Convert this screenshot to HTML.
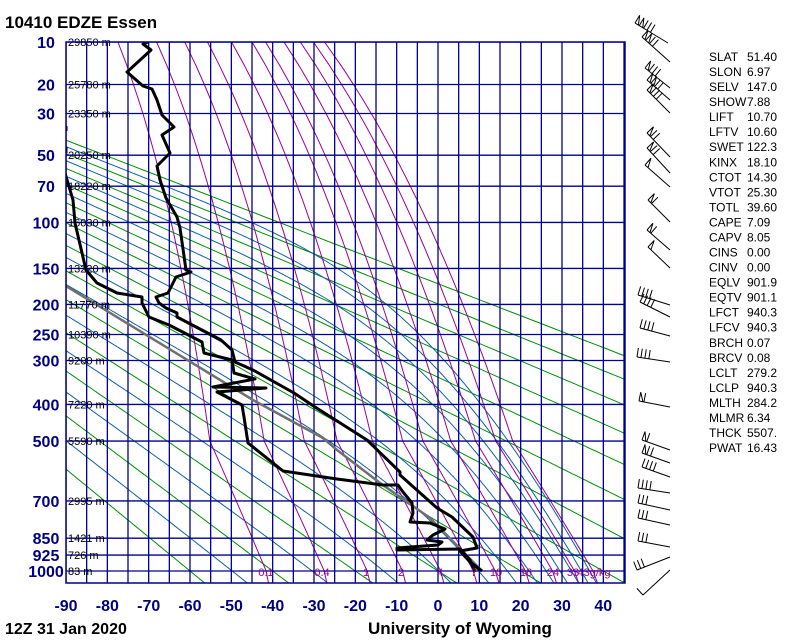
<!DOCTYPE html>
<html><head><meta charset="utf-8">
<style>
body{margin:0;background:#fff;width:800px;height:640px;overflow:hidden;position:relative;font-family:"Liberation Sans",sans-serif}
svg{position:absolute;left:0;top:0}
</style></head><body>
<svg id="s" width="800" height="640" viewBox="0 0 800 640" xmlns="http://www.w3.org/2000/svg">
<defs><clipPath id="c"><rect x="66" y="42" width="559" height="541"/></clipPath></defs>
<g id="grid" clip-path="url(#c)"></g>
<g id="snd" clip-path="url(#c)"></g>
<g id="txt"></g>
<g id="barbs" stroke="#000" stroke-width="1" fill="none"></g>
</svg>
<script>
var NS="http://www.w3.org/2000/svg";
function el(p,t,a,txt){var e=document.createElementNS(NS,t);for(var k in a)e.setAttribute(k,a[k]);if(txt!==undefined)e.textContent=txt;p.appendChild(e);return e;}
var K=0.286,P0=Math.pow(1000,K);
function Y(p){return 571+100.2*(Math.pow(p,K)-P0);}
function X(T){return 438+4.133*T;}
var g=document.getElementById('grid'),sn=document.getElementById('snd'),tx=document.getElementById('txt'),bb=document.getElementById('barbs');
function poly(par,pts,col,w){el(par,'polyline',{points:pts.map(function(q){return q[0].toFixed(1)+','+q[1].toFixed(1)}).join(' '),fill:'none',stroke:col,'stroke-width':w,'stroke-linejoin':'round'});}
// dry adiabats
for(var th=-60;th<=180;th+=20){var pts=[];for(var p=1070;p>=10;p-=5){pts.push([X((th+273.15)*Math.pow(p/1000,0.2857)-273.15),Y(p)]);}poly(g,pts,'#009000',1);}
// moist adiabats (integrated downward from 10 hPa)
function es(T){return 6.112*Math.exp(17.67*T/(T+243.5));}
function dTdp(p,T){var Tk=T+273.15,e=es(T),rs=0.622*e/(p-e),L=2.5e6,Rd=287,cp=1005;return (Rd*Tk+L*rs)/(p*(cp+L*L*rs*0.622/(Rd*Tk*Tk)));}
for(var th=-50;th<=170;th+=20){var p=10,T=(th+273.15)*Math.pow(p/1000,0.2857)-273.15,pts=[];
while(p<1070){pts.push([X(T),Y(p)]);var dp=p*0.004;T+=dTdp(p,T)*dp;p+=dp;}pts.push([X(T),Y(p)]);poly(g,pts,'#1060a8',1);}
// mixing ratio
function tri(y){return y>441?Math.max(0,(571-y)/130):Math.max(0,(y-42)/399);}
[0.1,0.4,1,2,4,7,10,16,24,33,43].forEach(function(w){var pts=[];for(var p=1070;p>=10;p-=5){var e=w*p/(622+w),l=Math.log(e/6.112),Td=243.5*l/(17.67-l),y=Y(p);pts.push([X(Td)-30*tri(y),y]);}poly(g,pts,'#990099',1);});
// isotherms
for(var i=0;i<=27;i++){var x=66+20.667*i;el(g,'line',{x1:x,y1:42,x2:x,y2:583,stroke:'#000090','stroke-width':1.3});}
var P=[10,20,30,50,70,100,150,200,250,300,400,500,700,850,925,1000];
var H=['29850','25780','23350','20250','18220','16030','13220','11770','10390','9200','7220','5590','2995','1421','726','83'];
P.forEach(function(p,i){var y=Y(p);el(g,'line',{x1:66,y1:y,x2:625,y2:y,stroke:'#000090','stroke-width':1.3});
el(tx,'text',{x:46,y:y+6,'text-anchor':'middle','font-size':16,'font-weight':'bold',fill:'#000080'},String(p));
el(tx,'text',{x:68,y:y+4,'font-size':11,fill:'#000'},H[i]+' m');});
el(tx,'rect',{x:66,y:42,width:559,height:541,fill:'none',stroke:'#000090','stroke-width':1.5});
// mixing labels
[[266,'0.1'],[322,'0.4'],[366,'1'],[401,'2'],[440,'4'],[474,'7'],[496,'10'],[526,'16'],[553,'24'],[573,'33'],[594,'43g/kg']].forEach(function(a){el(tx,'text',{x:a[0],y:576,'text-anchor':'middle','font-size':11,fill:'#990099'},a[1]);});
// temp labels
for(var t=-90;t<=40;t+=10){el(tx,'text',{x:X(t),y:611,'text-anchor':'middle','font-size':16,'font-weight':'bold',fill:'#000080'},String(t));}
el(tx,'text',{x:5,y:28,'font-size':17,'font-weight':'bold',fill:'#000'},'10410 EDZE Essen');
el(tx,'text',{x:5,y:634,'font-size':16,'font-weight':'bold',fill:'#000'},'12Z 31 Jan 2020');
el(tx,'text',{x:368,y:634,'font-size':17,'font-weight':'bold',fill:'#000'},'University of Wyoming');
var S=[['SLAT','51.40'],['SLON','6.97'],['SELV','147.0'],['SHOW','7.88'],['LIFT','10.70'],['LFTV','10.60'],['SWET','122.3'],['KINX','18.10'],['CTOT','14.30'],['VTOT','25.30'],['TOTL','39.60'],['CAPE','7.09'],['CAPV','8.05'],['CINS','0.00'],['CINV','0.00'],['EQLV','901.9'],['EQTV','901.1'],['LFCT','940.3'],['LFCV','940.3'],['BRCH','0.07'],['BRCV','0.08'],['LCLT','279.2'],['LCLP','940.3'],['MLTH','284.2'],['MLMR','6.34'],['THCK','5507.'],['PWAT','16.43']];
S.forEach(function(s,i){var y=61+15.04*i;el(tx,'text',{x:709,y:y,'font-size':12,fill:'#000'},s[0]);el(tx,'text',{x:747,y:y,'font-size':12,fill:'#000'},s[1]);});
// sounding
poly(sn,[[66,286],[253,400],[323,438],[337,450],[380,483],[430,518],[482,571]],'#707070',2.5);
poly(sn,[[148,42],[143,44],[151,50],[127,72],[143,86],[152,89],[157,100],[162,115],[174,127],[162,135],[170,153],[157,166],[160,180],[166,198],[177,217],[180,228],[186,270],[191,272],[176,277],[168,293],[156,297],[159,303],[166,308],[177,313],[177,317],[221,340],[232,350],[235,362],[253,370],[294,393],[315,407],[367,440],[400,472],[400,475],[437,508],[452,517],[473,537],[477,548],[460,551],[470,562],[482,571]],'#000',3);
poly(sn,[[66,126],[66,131]],'#000',3);poly(sn,[[66,147],[66,153]],'#000',3);
poly(sn,[[65,173],[73,200],[75,223],[86,270],[97,283],[117,293],[142,297],[142,303],[149,317],[169,325],[202,342],[204,353],[232,360],[234,373],[255,379],[213,387],[266,388],[217,392],[242,405],[244,417],[248,443],[283,471],[337,479],[383,485],[398,485],[403,492],[412,503],[413,513],[410,522],[430,523],[445,529],[433,535],[427,540],[442,542],[438,545],[397,548],[397,550],[460,549],[470,560],[475,572]],'#000',3);
// barbs
var B=[[635,23,668,43,3,2],[642,37,670,62,2,2],[645,68,670,88,3,1],[647,80,670,100,2,2],[647,90,670,113,3,1],[647,133,670,157,2,1],[647,148,670,173,2,1],[645,165,670,187,0,1],[648,200,670,222,1,1],[647,230,670,250,1,1],[648,247,670,268,0,1],
[638,295,670,305,4,0],[640,302,670,317,4,0],[640,328,670,336,4,0],[637,357,670,362,4,0],[639,401,670,407,1,1],[642,440,670,450,1,1],[642,453,670,463,2,1],[642,467,670,477,4,0],[638,488,670,493,4,0],[638,503,670,510,3,0],[638,518,670,525,3,0],[638,541,670,547,3,0],[637,570,670,557,3,0],[643,595,670,570,1,0]];
B.forEach(function(b){var dx=b[2]-b[0],dy=b[3]-b[1],L=Math.hypot(dx,dy),ux=dx/L,uy=dy/L,nx=uy,ny=-ux;if(ny>0){nx=-nx;ny=-ny;}
var d='M'+b[0]+' '+b[1]+'L'+b[2]+' '+b[3];var s=0;
for(var i=0;i<b[5];i++){var ax=b[0]+ux*s,ay=b[1]+uy*s;d+='M'+ax+' '+ay+'l'+(nx*9)+' '+(ny*9)+'L'+(ax+ux*4)+' '+(ay+uy*4);s+=5;}
for(var i=0;i<b[4];i++){var ax=b[0]+ux*s,ay=b[1]+uy*s;d+='M'+ax+' '+ay+'l'+(nx*9)+' '+(ny*9);s+=4;}
el(bb,'path',{d:d});});
</script>
</body></html>
